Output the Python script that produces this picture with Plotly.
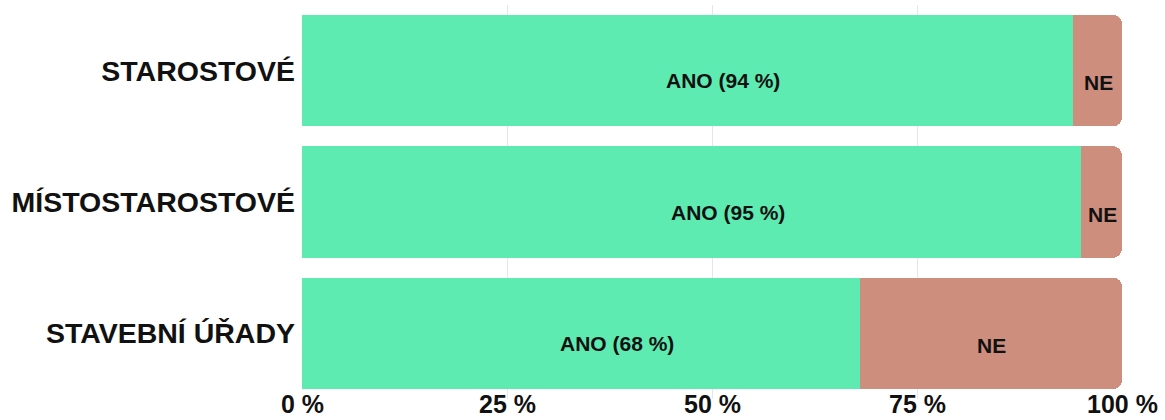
import plotly.graph_objects as go

categories = ["STAROSTOVÉ", "MÍSTOSTAROSTOVÉ", "STAVEBNÍ ÚŘADY"]
ano_values = [94, 95, 68]
ne_values = [6, 5, 32]
ano_labels = ["ANO (94 %)", "ANO (95 %)", "ANO (68 %)"]
ne_labels = ["NE", "NE", "NE"]
x_ticks = [0, 25, 50, 75, 100]
x_tick_labels = ["0 %", "25 %", "50 %", "75 %", "100 %"]

GREEN = "#5EEBB2"
BROWN = "#CD8E7E"
FONT = "Liberation Sans"

fig = go.Figure()
fig.add_trace(go.Bar(y=categories, x=ano_values, orientation="h", marker=dict(color=GREEN, line=dict(width=0)),
                     hoverinfo="skip", name="ANO"))
fig.add_trace(go.Bar(y=categories, x=ne_values, orientation="h", marker=dict(color=BROWN, line=dict(width=0)),
                     hoverinfo="skip", name="NE"))

annotations = []
for cat, a, n, al, nl in zip(categories, ano_values, ne_values, ano_labels, ne_labels):
    annotations.append(dict(x=a / 2, y=cat, text=al, showarrow=False, xshift=36, yshift=-10,
                            font=dict(family=FONT, size=21, color="#111", weight="bold")))
    annotations.append(dict(x=a + n / 2, y=cat, text=nl, showarrow=False, xshift=1, yshift=-12,
                            font=dict(family=FONT, size=21, color="#111", weight="bold")))

# x-axis tick labels drawn as annotations (positioned by the x scale)
for tv, tl in zip(x_ticks, x_tick_labels):
    annotations.append(dict(x=tv, xref="x", y=0, yref="paper", yanchor="middle", yshift=-5,
                            text=tl, showarrow=False,
                            font=dict(family=FONT, size=25, color="#111", weight="bold")))

fig.update_layout(
    barmode="stack",
    bargap=0.15,
    barcornerradius=9,
    width=1165, height=420,
    margin=dict(l=302, r=43, t=5, b=21),
    plot_bgcolor="white", paper_bgcolor="white",
    showlegend=False,
    annotations=annotations,
    xaxis=dict(range=[0, 100], tickvals=x_ticks, showticklabels=False, showgrid=True,
               gridcolor="#e6e6e6", gridwidth=1, zeroline=False, showline=False, ticks="",
               automargin=False),
    yaxis=dict(autorange="reversed", showgrid=False, ticks="", ticklabelstandoff=6, automargin=False,
               tickfont=dict(family=FONT, size=28.5, color="#111", weight="bold")),
)

fig.write_html("out.html")
